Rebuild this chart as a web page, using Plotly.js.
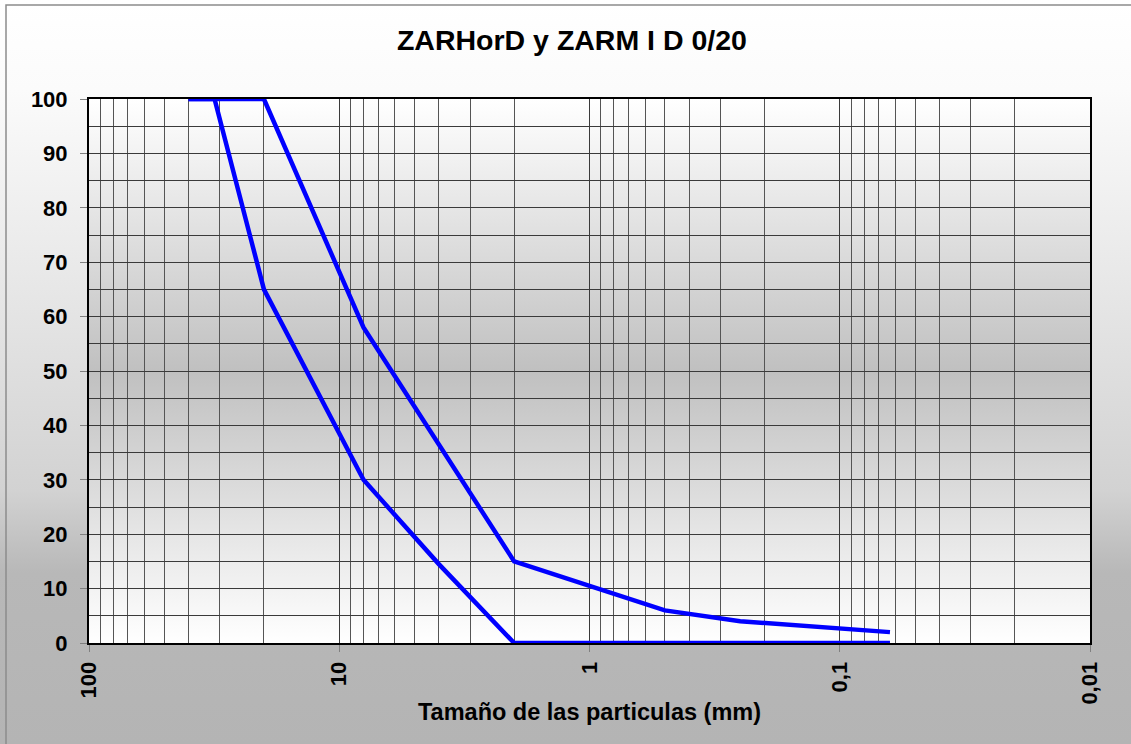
<!DOCTYPE html>
<html>
<head>
<meta charset="utf-8">
<script src="https://cdn.plot.ly/plotly-3.0.1.min.js"></script>
<style>
  html, body { margin: 0; padding: 0; }
  #chart {
    width: 1131px; height: 744px;
    background: linear-gradient(to bottom, #ffffff 0%, #fbfbfb 12%, #e6e6e6 40%, #d2d2d2 66%, #b8b8b8 77%, #b4b4b4 100%);
  }
</style>
</head>
<body>
<div id="chart"></div>
<script>
// Sieve sizes (mm)
const sieves = [40, 31.5, 20, 8, 4, 2, 0.5, 0.25, 0.063];
// Lower curve (% passing)
const lowerPassing = [100, 100, 65, 30, 14.5, 0, 0, 0, 0];
// Upper curve (% passing)
const upperPassing = [100, 100, 100, 58, 36.5, 15, 6, 4, 2];
// Axis tick labels
const xTickVals = [100, 10, 1, 0.1, 0.01];
const xTickText = ['100', '10', '1', '0,1', '0,01'];
const yTickVals = [0, 10, 20, 30, 40, 50, 60, 70, 80, 90, 100];

// minor log grid positions (2..9 x each decade)
const minorVals = [];
[0.01, 0.1, 1, 10].forEach(function (d) {
  for (let k = 2; k <= 9; k++) minorVals.push(+(k * d).toPrecision(3));
});

const svgGrad = '<svg xmlns="http://www.w3.org/2000/svg" width="10" height="100" preserveAspectRatio="none">' +
  '<defs><linearGradient id="g" x1="0" y1="0" x2="0" y2="1">' +
  '<stop offset="0" stop-color="#ffffff"/>' +
  '<stop offset="0.5" stop-color="#c0c0c0"/>' +
  '<stop offset="1" stop-color="#ffffff"/>' +
  '</linearGradient></defs><rect width="10" height="100" fill="url(#g)"/></svg>';
const gradSrc = 'data:image/svg+xml;charset=utf-8,' + encodeURIComponent(svgGrad);

const lineStyle = { color: '#0000ff', width: 4.5 };

const traces = [
  { x: sieves, y: lowerPassing, type: 'scatter', mode: 'lines', line: lineStyle, name: 'Inferior', showlegend: false, hoverinfo: 'x+y' },
  { x: sieves, y: upperPassing, type: 'scatter', mode: 'lines', line: lineStyle, name: 'Superior', showlegend: false, hoverinfo: 'x+y' }
];

const gridColor = '#3a3a3a';
const fontFam = '"Liberation Sans", Arial, sans-serif';

const layout = {
  width: 1131, height: 744,
  margin: { l: 89, r: 41, t: 99, b: 101 },
  paper_bgcolor: 'rgba(0,0,0,0)',
  plot_bgcolor: 'rgba(0,0,0,0)',
  font: { family: fontFam, color: '#000000' },
  title: {
    text: 'ZARHorD y ZARM I D 0/20',
    font: { family: fontFam, size: 28.5, weight: 'bold', color: '#000' },
    x: 0.5057, xref: 'container', xanchor: 'center',
    y: 1 - 40 / 744, yref: 'container', yanchor: 'middle'
  },
  xaxis: {
    type: 'log',
    range: [2, -2],
    autorange: false,
    tickmode: 'array',
    tickvals: xTickVals,
    ticktext: xTickText,
    tickangle: -90,
    ticks: 'outside', ticklen: 7, tickcolor: '#808080', tickwidth: 1,
    ticklabelstandoff: 1,
    tickfont: { family: fontFam, size: 22, weight: 'bold', color: '#000' },
    showgrid: true, gridcolor: gridColor, gridwidth: 1,
    minor: { tickmode: 'array', tickvals: minorVals, showgrid: true, gridcolor: '#555555', gridwidth: 1, ticks: '' },
    showline: true, linecolor: '#000', linewidth: 2, mirror: true,
    zeroline: false,
    title: {
      text: 'Tamaño de las particulas (mm)',
      font: { family: fontFam, size: 23.5, weight: 'bold', color: '#000' },
      standoff: 0
    },
    automargin: false
  },
  yaxis: {
    range: [0, 100],
    autorange: false,
    tickmode: 'array',
    tickvals: yTickVals,
    ticks: 'outside', ticklen: 7, tickcolor: '#808080', tickwidth: 1,
    ticklabelstandoff: 8,
    tickfont: { family: fontFam, size: 22, weight: 'bold', color: '#000' },
    showgrid: true, gridcolor: gridColor, gridwidth: 1,
    minor: { dtick: 5, showgrid: true, gridcolor: gridColor, gridwidth: 1, ticks: '' },
    showline: true, linecolor: '#000', linewidth: 2, mirror: true,
    zeroline: false,
    automargin: false
  },
  images: [{
    source: gradSrc,
    xref: 'paper', yref: 'paper',
    x: 0, y: 1, sizex: 1, sizey: 1,
    xanchor: 'left', yanchor: 'top',
    sizing: 'stretch', layer: 'below'
  }],
  shapes: [{
    type: 'rect', xref: 'paper', yref: 'paper',
    x0: (6 - 89) / 1001, x1: 1.2,
    y0: -0.4, y1: (643 - 5) / 544,
    line: { color: '#8c8c8c', width: 1.5 },
    fillcolor: 'rgba(0,0,0,0)', layer: 'below'
  }]
};

Plotly.newPlot('chart', traces, layout, { displayModeBar: false, responsive: false });
</script>
</body>
</html>
